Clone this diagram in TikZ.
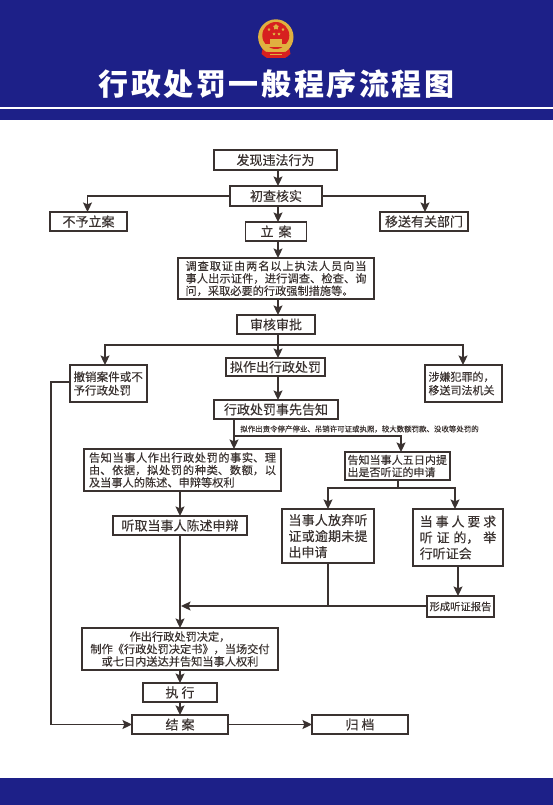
\documentclass[tikz,border=0pt]{standalone}
\usepackage{fontspec}
\usepackage{tikz}
\usetikzlibrary{arrows.meta,shapes.geometric}
\setmainfont[FakeBold=0.25]{Noto Sans CJK SC}
\newfontfamily\titlefont[LetterSpace=8.6]{Noto Sans CJK SC}
\XeTeXlinebreaklocale "zh"
\XeTeXlinebreakskip=0pt plus 3pt
\definecolor{bannerblue}{HTML}{1D2088}
\definecolor{inkdark}{HTML}{3A3230}
\definecolor{emblemred}{HTML}{D7201F}
\definecolor{emblemgold}{HTML}{E0B040}
\tikzset{
  flowbox/.style={draw=inkdark, line width=1.3pt, inner sep=0pt, outer sep=0pt, text=inkdark, font=\fontsize{13}{16}\selectfont},
  notebox/.style={flowbox, font=\fontsize{11.2}{12.4}\selectfont},
  flowline/.style={draw=inkdark, line width=1.3pt},
  flowarrow/.style={flowline, -{Stealth[length=9.5pt,width=9pt,inset=1.8pt]}},
  emblemstar/.style={star, star points=5, fill=emblemgold, inner sep=0pt}
}
\begin{document}
\begin{tikzpicture}[x=1pt,y=-1pt]
\useasboundingbox (0,0) rectangle (553,805);
% banner and footer
\fill[bannerblue] (0,0) rectangle (553,120);
\fill[white] (0,107.3) rectangle (553,109.3);
\fill[bannerblue] (0,778) rectangle (553,805);
% emblem
\fill[emblemred] (263,47) -- (289,47) -- (290.5,54) -- (285,58) -- (267,58) -- (261.5,54) -- cycle;
\fill[emblemgold] (275.8,37) circle (17.7);
\fill[emblemred] (263,52) -- (289,52) -- (288,56) -- (284,58) -- (268,58) -- (264,56) -- cycle;
\fill[emblemred] (275.8,35.5) circle (13.5);
\fill[emblemgold] (270,39) rectangle (282,44);
\fill[emblemgold] (265,44) rectangle (288,47);
\fill[emblemgold] (268,50) rectangle (284,52);
\fill[emblemgold] (270,54) rectangle (282,55.5);
\node[emblemstar, minimum size=6pt] (starbig) at (276,27) {};
\foreach \i/\x/\y in {1/269/29.5,2/274/34,3/279/34,4/283/29.5}
  \node[emblemstar, minimum size=3pt] (star\i) at (\x,\y) {};
% title
\node[text=white, font=\titlefont\fontsize{30}{32}\selectfont\bfseries, inner sep=0pt] (title) at (276.5,84) {行政处罚一般程序流程图};
% boxes
\node[flowbox, minimum width=123pt, minimum height=20pt] (discover) at (275.5,160) {发现违法行为};
\node[flowbox, minimum width=92pt, minimum height=20pt] (check) at (276,196) {初查核实};
\node[flowbox, minimum width=77pt, minimum height=19pt] (noreg) at (88.5,221.5) {不予立案};
\node[flowbox, minimum width=88pt, minimum height=19pt] (transfer) at (424,221.5) {移送有关部门};
\node[flowbox, minimum width=61.5pt, minimum height=19pt] (register) at (276,231.5) {立\hspace{5pt}案};
\node[notebox, minimum width=196pt, minimum height=41pt, text width=181pt, align=justify] (survey) at (276,278.5) {调查取证由两名以上执法人员向当事人出示证件，进行调查、检查、询问，采取必要的行政强制措施等。};
\node[flowbox, minimum width=78pt, minimum height=19pt] (audit) at (276,324.5) {审核审批};
\node[flowbox, minimum width=99pt, minimum height=18pt] (draft) at (275.5,367) {拟作出行政处罚};
\node[notebox, minimum width=77pt, minimum height=37pt, text width=70pt, align=left, font=\fontsize{11.5}{13.5}\selectfont] (cancel) at (108.5,383.5) {撤销案件或不予行政处罚};
\node[notebox, minimum width=77pt, minimum height=37pt, text width=70pt, align=left, font=\fontsize{11}{13.5}\selectfont] (crime) at (463.5,383.5) {涉嫌犯罪的，\\移送司法机关};
\node[flowbox, minimum width=124pt, minimum height=19pt] (inform) at (276,409.5) {行政处罚事先告知};
\node[inner sep=0pt, text=inkdark, font=\fontsize{7.45}{9}\selectfont] (hearnote) at (359.5,429) {拟作出责令停产停业、吊销许可证或执照，较大数额罚款、没收等处罚的};
\node[notebox, minimum width=197pt, minimum height=42pt, text width=187pt, align=justify] (rights) at (182.5,470) {告知当事人作出行政处罚的事实、理由、依据，拟处罚的种类、数额，以及当事人的陈述、申辩等权利};
\node[notebox, minimum width=105pt, minimum height=28pt, text width=100pt, align=left, font=\fontsize{11}{12.3}\selectfont] (fivedays) at (397.5,466) {告知当事人五日内提出是否听证的申请};
\node[flowbox, minimum width=134pt, minimum height=19pt] (listen) at (180,525.5) {听取当事人陈述申辩};
\node[flowbox, minimum width=92pt, minimum height=54pt, text width=79pt, align=justify] (waive) at (328,536) {当事人放弃听证或逾期未提出申请};
\node[flowbox, minimum width=90pt, minimum height=57pt, text width=76.5pt, align=justify] (request) at (458,537.5) {当事人要求听证的，举行听证会};
\node[notebox, minimum width=67pt, minimum height=21pt, font=\fontsize{10.3}{12}\selectfont] (report) at (460.5,606.5) {形成听证报告};
\node[notebox, minimum width=196pt, minimum height=42pt, align=center] (decide) at (180,649) {作出行政处罚决定，\\制作《行政处罚决定书》，当场交付\\或七日内送达并告知当事人权利};
\node[flowbox, minimum width=74pt, minimum height=19pt] (execute) at (180,692.5) {执\hspace{3pt}行};
\node[flowbox, minimum width=96pt, minimum height=19pt] (close) at (180,724.5) {结\hspace{3pt}案};
\node[flowbox, minimum width=96pt, minimum height=19pt] (archive) at (360,724.5) {归\hspace{3pt}档};
% connector turning points
\coordinate (midaxis) at (278,0);
\coordinate (noregin) at (87.5,196);
\coordinate (transin) at (425,196);
\coordinate (split) at (278,345);
\coordinate (splitl) at (105,345);
\coordinate (splitr) at (463,345);
\coordinate (forkl) at (234,0);
\coordinate (forkturn) at (234,436);
\coordinate (forkr) at (401,436);
\coordinate (hearfork) at (398,488);
\coordinate (waivein) at (328,488);
\coordinate (requestin) at (455,488);
\coordinate (reqout) at (458,0);
\coordinate (merge) at (181,606);
\coordinate (waivejoin) at (328,606);
\coordinate (cancelout) at (51,382);
\coordinate (closein) at (51,724.5);
% connectors
\draw[flowarrow] (discover.south -| midaxis) -- (check.north -| midaxis);
\draw[flowarrow] (check.south -| midaxis) -- (register.north -| midaxis);
\draw[flowarrow] (check.west) -- (noregin) -- (noreg.north -| noregin);
\draw[flowarrow] (check.east) -- (transin) -- (transfer.north -| transin);
\draw[flowarrow] (register.south -| midaxis) -- (survey.north -| midaxis);
\draw[flowarrow] (survey.south -| midaxis) -- (audit.north -| midaxis);
\draw[flowarrow] (audit.south -| midaxis) -- (draft.north -| midaxis);
\draw[flowarrow] (split) -- (splitl) -- (cancel.north -| splitl);
\draw[flowarrow] (split) -- (splitr) -- (crime.north -| splitr);
\draw[flowarrow] (draft.south -| midaxis) -- (inform.north -| midaxis);
\draw[flowarrow] (inform.south -| forkl) -- (rights.north -| forkl);
\draw[flowarrow] (forkturn) -- (forkr) -- (fivedays.north -| forkr);
\draw[flowarrow] (rights.south -| listen) -- (listen.north);
\draw[flowline] (fivedays.south -| hearfork) -- (hearfork);
\draw[flowarrow] (hearfork) -- (waivein) -- (waive.north -| waivein);
\draw[flowarrow] (hearfork) -- (requestin) -- (request.north -| requestin);
\draw[flowline] (waive.south -| waivejoin) -- (waivejoin);
\draw[flowarrow] (request.south -| reqout) -- (report.north -| reqout);
\draw[flowarrow] (report.west |- merge) -- (merge);
\draw[flowarrow] (listen.south) -- (decide.north);
\draw[flowarrow] (decide.south) -- (execute.north);
\draw[flowarrow] (execute.south) -- (close.north);
\draw[flowarrow] (close.east) -- (archive.west);
\draw[flowline] (cancel.west |- cancelout) -- (cancelout) -- (closein);
\draw[flowarrow] (closein) -- (close.west);
\end{tikzpicture}
\end{document}
